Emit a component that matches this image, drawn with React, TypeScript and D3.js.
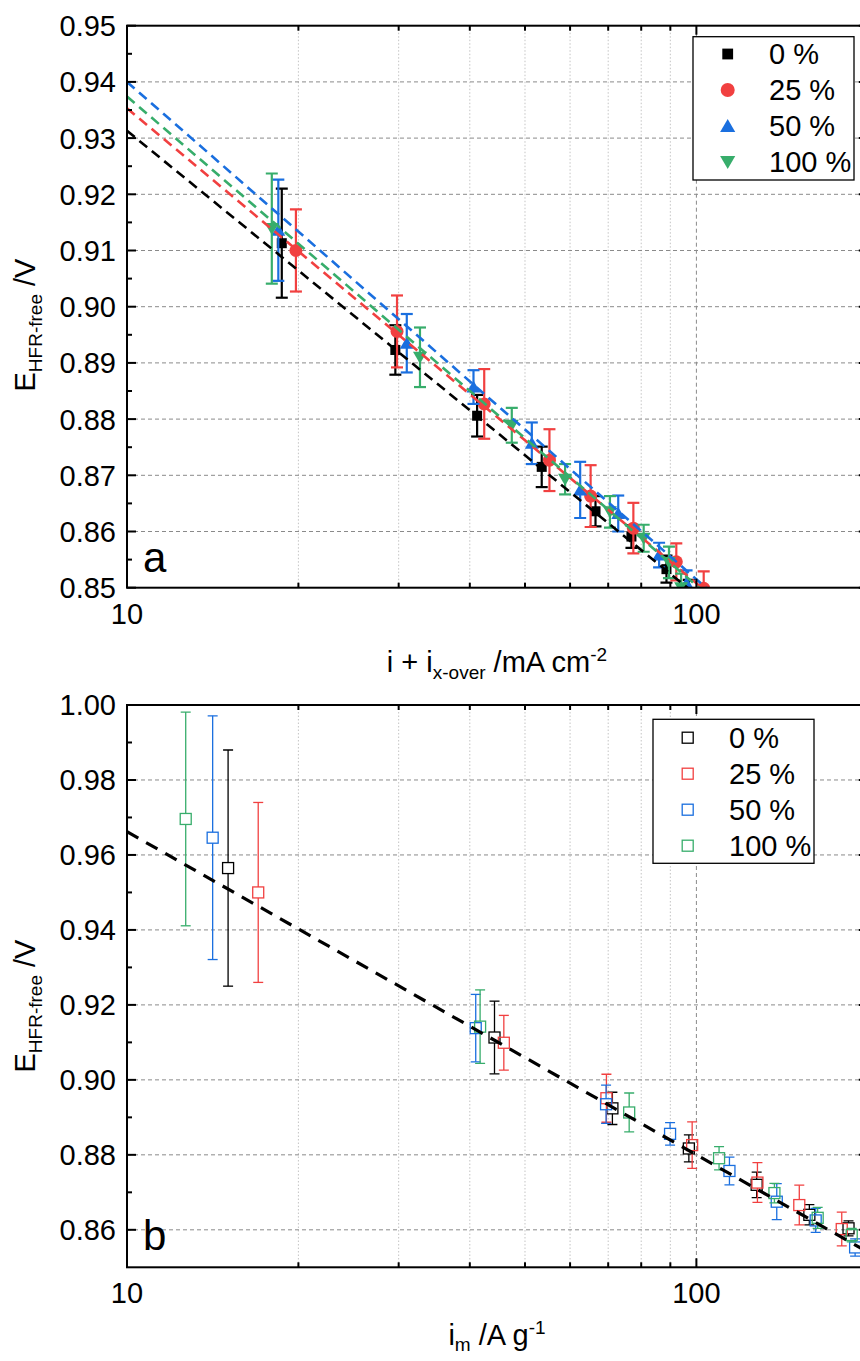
import React from 'react';
import * as d3 from 'd3';

// ---------- data ----------
const seriesColors = ['#000000', '#F14040', '#1A6FDF', '#37AD6B'];
const seriesLabels = ['0 %', '25 %', '50 %', '100 %'];
const markerShapes = ['square', 'circle', 'triangleUp', 'triangleDown'];

// Panel a: i + i_x-over (mA cm-2) vs E_HFR-free (V)
const aX0 = [18.7, 29.6, 41.2, 53.5, 66.5, 76.9, 88.6, 97.0];
const aY0 = [0.9113, 0.8923, 0.8806, 0.8715, 0.8636, 0.8591, 0.8533, 0.849];
const aE0 = [0.0097, 0.0044, 0.0037, 0.0036, 0.0027, 0.002, 0.0024, 0.0024];

const aX25 = [19.8, 29.8, 42.4, 55.2, 65.2, 77.5, 92.2, 103.0];
const aY25 = [0.91, 0.8956, 0.8827, 0.8727, 0.8663, 0.8606, 0.8546, 0.8499];
const aE25 = [0.0073, 0.0064, 0.0062, 0.0055, 0.0055, 0.0045, 0.0033, 0.003];

const aX50 = [18.44, 31.0, 40.6, 51.4, 62.5, 72.9, 86.0, 96.1];
const aY50 = [0.9136, 0.8935, 0.8857, 0.8757, 0.8674, 0.8632, 0.8558, 0.8508];
const aE50 = [0.009, 0.0052, 0.003, 0.0037, 0.005, 0.0032, 0.0022, 0.0023];

const aX100 = [17.96, 32.7, 47.4, 58.8, 70.5, 80.8, 89.5, 94.0];
const aY100 = [0.9139, 0.891, 0.8789, 0.8693, 0.8635, 0.8588, 0.8545, 0.85];
const aE100 = [0.0098, 0.0053, 0.0031, 0.0027, 0.0028, 0.0024, 0.0028, 0.0025];

// Tafel fit lines of panel a: value at x = 10 and slope per decade
const aFitAt10 = [0.9313, 0.9353, 0.94, 0.9374];
const aFitSlope = [-0.0826, -0.0845, -0.0885, -0.087];

// Panel b: i_m (A g-1) vs E_HFR-free (V)
const bX0 = [15.05, 44.2, 71.2, 97.0, 127.6, 157.9, 185.0];
const bY0 = [0.9565, 0.9113, 0.8924, 0.8817, 0.872, 0.864, 0.8604];
const bE0 = [0.0315, 0.0097, 0.0043, 0.0036, 0.0034, 0.0027, 0.002];

const bX25 = [17.0, 45.9, 69.5, 98.3, 128.0, 151.6, 180.0];
const bY25 = [0.95, 0.9099, 0.8951, 0.8826, 0.8726, 0.8666, 0.8602];
const bE25 = [0.024, 0.0073, 0.0064, 0.0062, 0.0053, 0.0053, 0.0045];

const bX50 = [14.14, 40.97, 69.4, 89.9, 114.3, 138.4, 162.0, 190.0];
const bY50 = [0.9646, 0.9138, 0.8935, 0.8856, 0.8757, 0.8675, 0.8625, 0.8553];
const bE50 = [0.0325, 0.009, 0.0051, 0.003, 0.0037, 0.0048, 0.0032, 0.0023];

const bX100 = [12.68, 41.7, 76.2, 109.6, 137.1, 163.3, 187.4];
const bY100 = [0.9696, 0.9142, 0.8913, 0.8791, 0.8698, 0.8632, 0.8586];
const bE100 = [0.0285, 0.0098, 0.0052, 0.0031, 0.0026, 0.0028, 0.0018];

const bFitAt10 = 0.9662;
const bFitSlope = -0.0862;

// ticks
const xMajorTicks = [10, 100];
const xMinorTicks = [20, 30, 40, 50, 60, 70, 80, 90, 200];
const aYTicks = [0.85, 0.86, 0.87, 0.88, 0.89, 0.9, 0.91, 0.92, 0.93, 0.94, 0.95];
const aYMinor = [0.855, 0.865, 0.875, 0.885, 0.895, 0.905, 0.915, 0.925, 0.935, 0.945];
const bYTicks = [0.86, 0.88, 0.9, 0.92, 0.94, 0.96, 0.98, 1.0];
const bYMinor = [0.87, 0.89, 0.91, 0.93, 0.95, 0.97, 0.99];

// ---------- layout ----------
const W = 860;
const H = 1361;
const FONT = 'Arial, "Liberation Sans", Helvetica, sans-serif';
const X0 = 127;
const X1 = 867.8;

const xScale = d3.scaleLog().domain([10, 200]).range([X0, X1]);
const yA = d3.scaleLinear().domain([0.85, 0.95]).range([587.7, 25.7]);
const yB = d3.scaleLinear().domain([0.85, 1.0]).range([1267.3, 705]);

type Series = { x: number[]; y: number[]; e: number[] };
const aSeries: Series[] = [
  { x: aX0, y: aY0, e: aE0 },
  { x: aX25, y: aY25, e: aE25 },
  { x: aX50, y: aY50, e: aE50 },
  { x: aX100, y: aY100, e: aE100 },
];
const bSeries: Series[] = [
  { x: bX0, y: bY0, e: bE0 },
  { x: bX25, y: bY25, e: bE25 },
  { x: bX50, y: bY50, e: bE50 },
  { x: bX100, y: bY100, e: bE100 },
];

function Marker({ shape, cx, cy, color, scale = 1 }: any) {
  if (shape === 'square') {
    const s = 10 * scale;
    return <rect x={cx - s / 2} y={cy - s / 2} width={s} height={s} fill={color} />;
  }
  if (shape === 'circle') {
    return <circle cx={cx} cy={cy} r={6.5 * scale} fill={color} />;
  }
  const w = 7 * scale;
  const t = 6.5 * scale;
  const b = 5.5 * scale;
  if (shape === 'triangleUp') {
    return <polygon points={`${cx},${cy - t} ${cx + w},${cy + b} ${cx - w},${cy + b}`} fill={color} />;
  }
  return <polygon points={`${cx},${cy + t} ${cx + w},${cy - b} ${cx - w},${cy - b}`} fill={color} />;
}

function Frame({ y, ticks, top, bottom }: any) {
  const els: any[] = [];
  xMinorTicks.forEach((v, i) =>
    els.push(
      <line key={'gvm' + i} x1={xScale(v)} x2={xScale(v)} y1={top} y2={bottom}
        stroke="#c4c4c4" strokeWidth={1} strokeDasharray="1.5,2" />
    )
  );
  els.push(
    <line key="gv100" x1={xScale(100)} x2={xScale(100)} y1={top} y2={bottom}
      stroke="#8a8a8a" strokeWidth={1} strokeDasharray="4,3" />
  );
  ticks.forEach((v: number, i: number) => {
    const yy = y(v);
    if (Math.abs(yy - top) < 2 || Math.abs(yy - bottom) < 2) return;
    els.push(
      <line key={'gh' + i} x1={X0} x2={X1} y1={yy} y2={yy}
        stroke="#8a8a8a" strokeWidth={1} strokeDasharray="4,3" />
    );
  });
  return <g>{els}</g>;
}

function Axes({ y, ticks, minor, top, bottom, fmt }: any) {
  const els: any[] = [];
  const ML = 9;
  const mn = 5;
  ticks.forEach((v: number, i: number) => {
    const yy = y(v);
    els.push(<line key={'lt' + i} x1={X0} x2={X0 + ML} y1={yy} y2={yy} stroke="#000" strokeWidth={2} />);
    els.push(<line key={'rt' + i} x1={X1 - ML} x2={X1} y1={yy} y2={yy} stroke="#000" strokeWidth={2} />);
    els.push(
      <text key={'ll' + i} x={116} y={yy} dy="0.36em" textAnchor="end" fontSize={29} fontFamily={FONT}>
        {fmt(v)}
      </text>
    );
  });
  minor.forEach((v: number, i: number) => {
    const yy = y(v);
    els.push(<line key={'lm' + i} x1={X0} x2={X0 + mn} y1={yy} y2={yy} stroke="#000" strokeWidth={2} />);
    els.push(<line key={'rm' + i} x1={X1 - mn} x2={X1} y1={yy} y2={yy} stroke="#000" strokeWidth={2} />);
  });
  xMajorTicks.forEach((v, i) => {
    const xx = xScale(v);
    els.push(<line key={'bt' + i} x1={xx} x2={xx} y1={bottom} y2={bottom - ML} stroke="#000" strokeWidth={2} />);
    els.push(<line key={'tt' + i} x1={xx} x2={xx} y1={top} y2={top + ML} stroke="#000" strokeWidth={2} />);
    els.push(
      <text key={'bl' + i} x={xx} y={bottom + 36} textAnchor="middle" fontSize={29} fontFamily={FONT}>
        {v}
      </text>
    );
  });
  xMinorTicks.forEach((v, i) => {
    const xx = xScale(v);
    els.push(<line key={'bm' + i} x1={xx} x2={xx} y1={bottom} y2={bottom - mn} stroke="#000" strokeWidth={2} />);
    els.push(<line key={'tm' + i} x1={xx} x2={xx} y1={top} y2={top + mn} stroke="#000" strokeWidth={2} />);
  });
  els.push(
    <rect key="frame" x={X0} y={top} width={X1 - X0} height={bottom - top} fill="none" stroke="#000" strokeWidth={2} />
  );
  return <g>{els}</g>;
}

function YTitle({ cy }: any) {
  return (
    <text transform={`translate(35,${cy}) rotate(-90)`} textAnchor="middle" fontSize={29} fontFamily={FONT}>
      <tspan>E</tspan>
      <tspan fontSize={19} dy={7}>HFR-free</tspan>
      <tspan dy={-7}> /V</tspan>
    </text>
  );
}

export default function App() {
  const fmt = d3.format('.2f');
  const aTop = yA(0.95);
  const aBot = yA(0.85);
  const bTop = yB(1.0);
  const bBot = yB(0.85);

  const fitLine = d3
    .line<[number, number]>()
    .x((d) => xScale(d[0]))
    .y((d) => d[1]);

  const fitXs = [10, 140];

  return (
    <svg width={W} height={H} style={{ position: 'absolute', left: 0, top: 0, background: '#fff' }}
      xmlns="http://www.w3.org/2000/svg">
      <defs>
        <clipPath id="clipA">
          <rect x={X0} y={aTop} width={X1 - X0} height={aBot - aTop} />
        </clipPath>
        <clipPath id="clipB">
          <rect x={X0} y={bTop} width={X1 - X0} height={bBot - bTop} />
        </clipPath>
      </defs>
      <rect x={0} y={0} width={W} height={H} fill="#fff" />

      {/* ---------------- Panel a ---------------- */}
      <Frame y={yA} ticks={aYTicks} top={aTop} bottom={aBot} />
      <g clipPath="url(#clipA)">
        {aSeries.map((s, si) => (
          <g key={'as' + si}>
            {s.x.map((xv, i) => {
              const cx = xScale(xv);
              const y1 = yA(s.y[i] + s.e[i]);
              const y2 = yA(s.y[i] - s.e[i]);
              return (
                <g key={i} stroke={seriesColors[si]} strokeWidth={2.2}>
                  <line x1={cx} x2={cx} y1={y1} y2={y2} />
                  <line x1={cx - 6} x2={cx + 6} y1={y1} y2={y1} />
                  <line x1={cx - 6} x2={cx + 6} y1={y2} y2={y2} />
                </g>
              );
            })}
            {s.x.map((xv, i) => (
              <Marker key={'m' + i} shape={markerShapes[si]} cx={xScale(xv)} cy={yA(s.y[i])} color={seriesColors[si]} />
            ))}
          </g>
        ))}
        {aFitAt10.map((a0, si) => (
          <path key={'af' + si}
            d={fitLine(fitXs.map((xv) => [xv, yA(a0 + aFitSlope[si] * Math.log10(xv / 10))]) as any) || ''}
            fill="none" stroke={seriesColors[si]} strokeWidth={2.6} strokeDasharray="10,6" />
        ))}
      </g>
      <Axes y={yA} ticks={aYTicks} minor={aYMinor} top={aTop} bottom={aBot} fmt={fmt} />
      <text x={143} y={572} fontSize={42} fontFamily={FONT}>a</text>

      {/* legend a */}
      <g>
        <rect x={693} y={36.7} width={161} height={143.3} fill="#fff" stroke="#000" strokeWidth={1.3} />
        {seriesLabels.map((lab, i) => {
          const cy = 54 + i * 36;
          return (
            <g key={'la' + i}>
              <Marker shape={markerShapes[i]} cx={727.7} cy={cy} color={seriesColors[i]} scale={1.08} />
              <text x={769} y={cy} dy="0.36em" fontSize={29} fontFamily={FONT}>{lab}</text>
            </g>
          );
        })}
      </g>

      {/* x title a */}
      <text x={497} y={672} textAnchor="middle" fontSize={29} fontFamily={FONT}>
        <tspan>i + i</tspan>
        <tspan fontSize={19} dy={7}>x-over</tspan>
        <tspan dy={-7}> /mA cm</tspan>
        <tspan fontSize={19} dy={-11}>-2</tspan>
      </text>
      <YTitle cy={325} />

      {/* ---------------- Panel b ---------------- */}
      <Frame y={yB} ticks={bYTicks} top={bTop} bottom={bBot} />
      <g clipPath="url(#clipB)">
        {bSeries.map((s, si) => (
          <g key={'bs' + si}>
            {s.x.map((xv, i) => {
              const cx = xScale(xv);
              const cy = yB(s.y[i]);
              const y1 = yB(s.y[i] + s.e[i]);
              const y2 = yB(s.y[i] - s.e[i]);
              const h = 5.5;
              return (
                <g key={i} stroke={seriesColors[si]} strokeWidth={1.3} fill="none">
                  {y1 < cy - h && <line x1={cx} x2={cx} y1={y1} y2={cy - h} />}
                  {y2 > cy + h && <line x1={cx} x2={cx} y1={cy + h} y2={y2} />}
                  <line x1={cx - 5} x2={cx + 5} y1={y1} y2={y1} />
                  <line x1={cx - 5} x2={cx + 5} y1={y2} y2={y2} />
                  <rect x={cx - h} y={cy - h} width={2 * h} height={2 * h} />
                </g>
              );
            })}
          </g>
        ))}
        <path
          d={fitLine(fitXs.concat([220]).map((xv) => [xv, yB(bFitAt10 + bFitSlope * Math.log10(xv / 10))]) as any) || ''}
          fill="none" stroke="#000" strokeWidth={3.2} strokeDasharray="13,9" />
      </g>
      <Axes y={yB} ticks={bYTicks} minor={bYMinor} top={bTop} bottom={bBot} fmt={fmt} />
      <text x={143} y={1250} fontSize={42} fontFamily={FONT}>b</text>

      {/* legend b */}
      <g>
        <rect x={653} y={719.3} width={161} height={144} fill="#fff" stroke="#000" strokeWidth={1.3} />
        {seriesLabels.map((lab, i) => {
          const cy = 737.7 + i * 36;
          return (
            <g key={'lb' + i}>
              <rect x={687.7 - 5.5} y={cy - 5.5} width={11} height={11} fill="none" stroke={seriesColors[i]} strokeWidth={1.3} />
              <text x={729} y={cy} dy="0.36em" fontSize={29} fontFamily={FONT}>{lab}</text>
            </g>
          );
        })}
      </g>

      <text x={497} y={1345} textAnchor="middle" fontSize={29} fontFamily={FONT}>
        <tspan>i</tspan>
        <tspan fontSize={19} dy={6}>m</tspan>
        <tspan dy={-6}> /A g</tspan>
        <tspan fontSize={19} dy={-11}>-1</tspan>
      </text>
      <YTitle cy={1006} />
    </svg>
  );
}
